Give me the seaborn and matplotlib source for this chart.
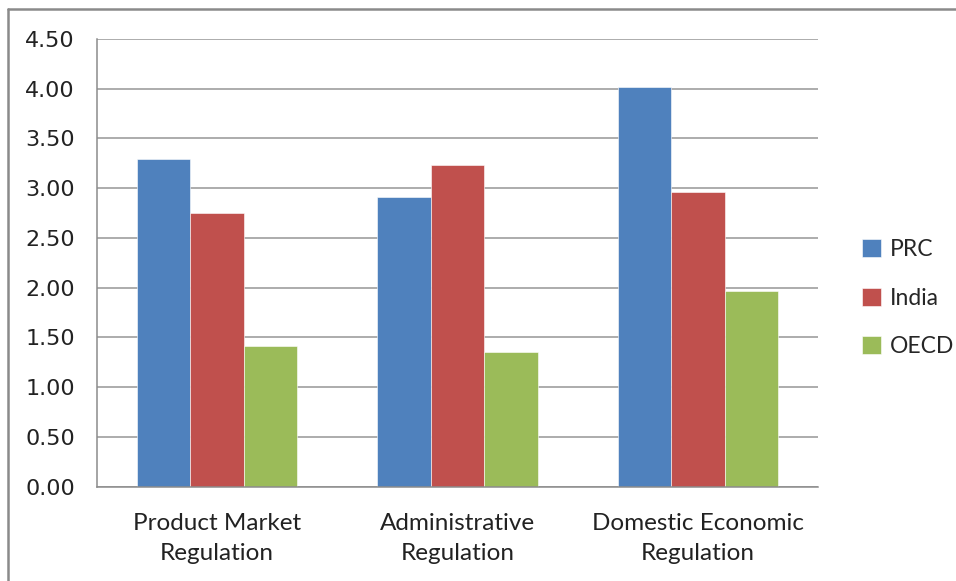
import matplotlib
matplotlib.use("Agg")
import matplotlib.pyplot as plt
from matplotlib.lines import Line2D
from matplotlib.patches import Patch
import seaborn as sns
import pandas as pd

# Regulation indicator scores by economy
categories = ["Product Market\nRegulation", "Administrative\nRegulation", "Domestic Economic\nRegulation"]
series = ["PRC", "India", "OECD"]
prc = [3.29, 2.91, 4.02]
india = [2.75, 3.23, 2.96]
oecd = [1.41, 1.35, 1.97]
y_ticks = [0.0, 0.5, 1.0, 1.5, 2.0, 2.5, 3.0, 3.5, 4.0, 4.5]
colors = ["#4F81BD", "#C0504D", "#9BBB59"]

rows = []
for name, vals in zip(series, [prc, india, oecd]):
    for cat, v in zip(categories, vals):
        rows.append({"category": cat, "series": name, "value": v})
df = pd.DataFrame(rows)

sns.set_style("white")
plt.rcParams["font.family"] = ["DejaVu Sans"]

fig = plt.figure(figsize=(9.56, 5.81), dpi=100)
ax = fig.add_axes([0.1015, 0.1623, 0.7541, 0.7706])

sns.barplot(data=df, x="category", y="value", hue="series", order=categories,
            hue_order=series, palette=colors, width=2/3, gap=0,
            saturation=1, edgecolor="white", linewidth=0.4, ax=ax, legend=False)

ax.set_xlim(-0.5, len(categories) - 0.5)
ax.set_ylim(0, 4.5)
ax.set_yticks(y_ticks)
ax.set_yticklabels([f"{t:.2f}" for t in y_ticks], fontsize=16, color="#222222")
ax.yaxis.grid(True, color="#a6a6a6", linewidth=1.3)
ax.set_axisbelow(True)

# category labels centred, boundary tick marks between groups
ax.set_xticks(range(len(categories)))
ax.set_xticklabels(categories, fontsize=17.5, family=["Lato", "DejaVu Sans"],
                   color="#222222", linespacing=1.5)
ax.set_xticks([i - 0.5 for i in range(len(categories) + 1)], minor=True)
ax.tick_params(axis="x", which="major", length=0, pad=19)
ax.tick_params(axis="x", which="minor", length=6, width=1.1, color="#8c8c8c")
ax.tick_params(axis="y", which="major", length=6, width=1.1, color="#8c8c8c", pad=10)
ax.set_xlabel("")
ax.set_ylabel("")

for side in ["top", "right"]:
    ax.spines[side].set_visible(False)
for side in ["left", "bottom"]:
    ax.spines[side].set_color("#8c8c8c")
    ax.spines[side].set_linewidth(1.1)

handles = [Patch(facecolor=c, edgecolor="white", linewidth=0.4) for c in colors]
leg = fig.legend(handles, series, loc="center left", bbox_to_anchor=(0.88, 0.487),
                 frameon=False, prop={"family": ["Lato", "DejaVu Sans"], "size": 16.5},
                 handlelength=0.85, handleheight=0.85, handletextpad=0.35,
                 labelspacing=1.2)

# chart frame (top and left edges)
fig.add_artist(Line2D([0.0087, 1.0], [1 - 9 / 581, 1 - 9 / 581], color="#8a8a8a",
                      linewidth=1.8, transform=fig.transFigure))
fig.add_artist(Line2D([0.0087, 0.0087], [0.0, 1 - 9 / 581], color="#8a8a8a",
                      linewidth=1.8, transform=fig.transFigure))

fig.savefig("out.png", dpi=100, facecolor="white")
